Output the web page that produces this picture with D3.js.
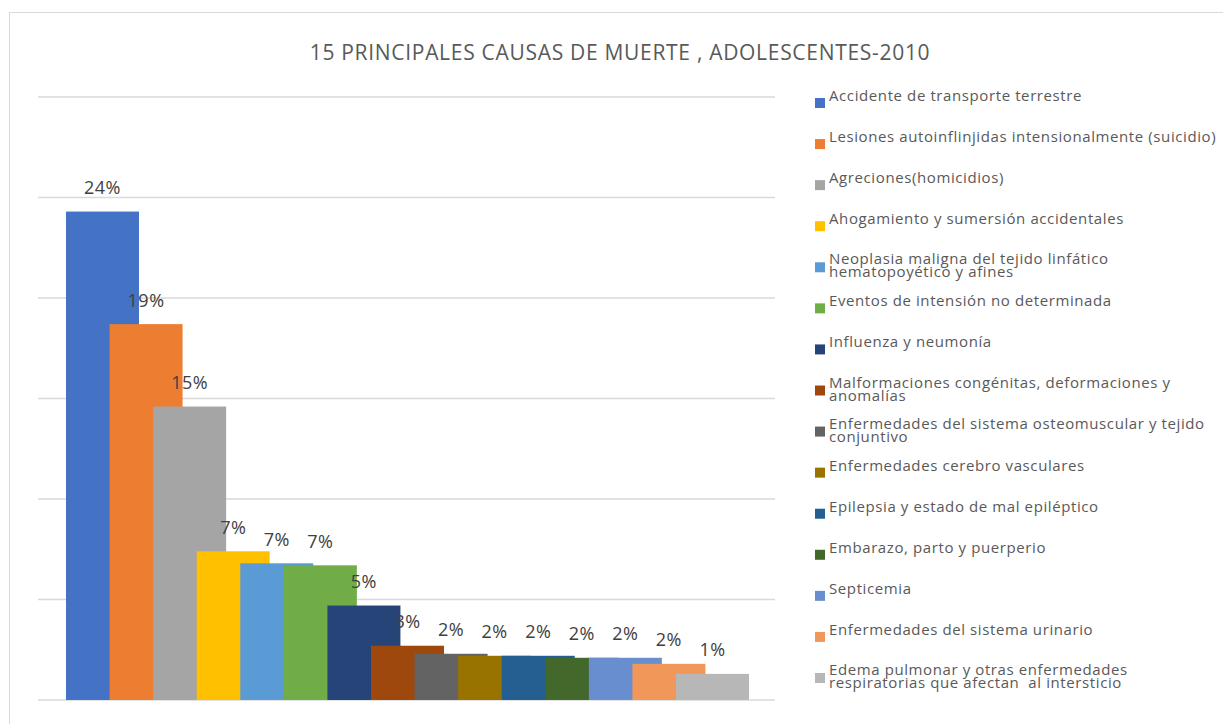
<!DOCTYPE html>
<html>
<head>
<meta charset="utf-8">
<script src="https://cdn.jsdelivr.net/npm/d3@7"></script>
<style>
html,body{margin:0;padding:0;background:#fff;}
svg{display:block;}
text{white-space:pre;}
</style>
</head>
<body>
<svg id="chart" width="1223" height="724"></svg>
<script>
const categories = [
  "Accidente de transporte terrestre",
  "Lesiones autoinflinjidas intensionalmente (suicidio)",
  "Agreciones(homicidios)",
  "Ahogamiento y sumersión accidentales",
  "Neoplasia maligna del tejido linfático\nhematopoyético y afines",
  "Eventos de intensión no determinada",
  "Influenza y neumonía",
  "Malformaciones congénitas, deformaciones y\nanomalías",
  "Enfermedades del sistema osteomuscular y tejido\nconjuntivo",
  "Enfermedades cerebro vasculares",
  "Epilepsia y estado de mal epiléptico",
  "Embarazo, parto y puerperio",
  "Septicemia",
  "Enfermedades del sistema urinario",
  "Edema pulmonar y otras enfermedades\nrespiratorias que afectan  al intersticio"
];
const values = [24.3, 18.7, 14.6, 7.4, 6.8, 6.7, 4.7, 2.7, 2.3, 2.2, 2.2, 2.1, 2.1, 1.8, 1.3];
const colors = ["#4472C4","#ED7D31","#A5A5A5","#FFC000","#5B9BD5","#70AD47","#264478","#9E480E","#636363","#997300","#255E91","#43682B","#698ED0","#F1975A","#B7B7B7"];
const yTicks = [0, 5, 10, 15, 20, 25, 30];
const title = "15 PRINCIPALES CAUSAS DE MUERTE , ADOLESCENTES-2010";

const svg = d3.select("#chart");
const font = "'Open Sans', sans-serif";

// chart frame
svg.append("rect").attr("x", 9.5).attr("y", 12.5).attr("width", 1300).attr("height", 800)
  .attr("fill", "#fff").attr("stroke", "#d9d9d9").attr("stroke-width", 1);

// title
svg.append("text").attr("x", 620).attr("y", 60).attr("text-anchor", "middle")
  .attr("font-family", font).attr("font-size", 21).attr("letter-spacing", 0.7)
  .attr("fill", "#595959").text(title);

const y = d3.scaleLinear().domain([0, 30]).range([700, 97]);
const x = d3.scalePoint().domain(categories).range([66, 676]);
const barW = 73;

// gridlines
svg.append("g").selectAll("line").data(yTicks).join("line")
  .attr("x1", 38).attr("x2", 775)
  .attr("y1", d => y(d)).attr("y2", d => y(d))
  .attr("stroke", "#d9d9d9").attr("stroke-width", 1.5);

// bars
svg.append("g").selectAll("rect").data(categories).join("rect")
  .attr("x", d => x(d)).attr("width", barW)
  .attr("y", (d, i) => y(values[i]))
  .attr("height", (d, i) => y(0) - y(values[i]))
  .attr("fill", (d, i) => colors[i]);

// data labels
svg.append("g").selectAll("text").data(categories).join("text")
  .attr("x", d => x(d) + barW / 2)
  .attr("y", (d, i) => y(values[i]) - 17.5)
  .attr("text-anchor", "middle")
  .attr("font-family", font).attr("font-size", 18).attr("letter-spacing", 0.5)
  .attr("fill", "#404040")
  .text((d, i) => Math.round(values[i]) + "%");

// legend
const legY = d3.scaleLinear().domain([0, categories.length - 1]).range([98, 673]);
const leg = svg.append("g").selectAll("g").data(categories).join("g")
  .attr("transform", (d, i) => `translate(815,${legY(i)})`);
leg.append("rect").attr("width", 10).attr("height", 10).attr("fill", (d, i) => colors[i]);
leg.each(function(d) {
  const lines = d.split("\n");
  const t = d3.select(this).append("text")
    .attr("font-family", font).attr("font-size", 15).attr("letter-spacing", 0.6)
    .attr("fill", "#595959");
  if (lines.length === 1) {
    t.append("tspan").attr("x", 14).attr("y", 3).text(lines[0]);
  } else {
    lines.forEach((l, j) => t.append("tspan").attr("x", 14).attr("y", 2 + j * 13).text(l));
  }
});
</script>
</body>
</html>
